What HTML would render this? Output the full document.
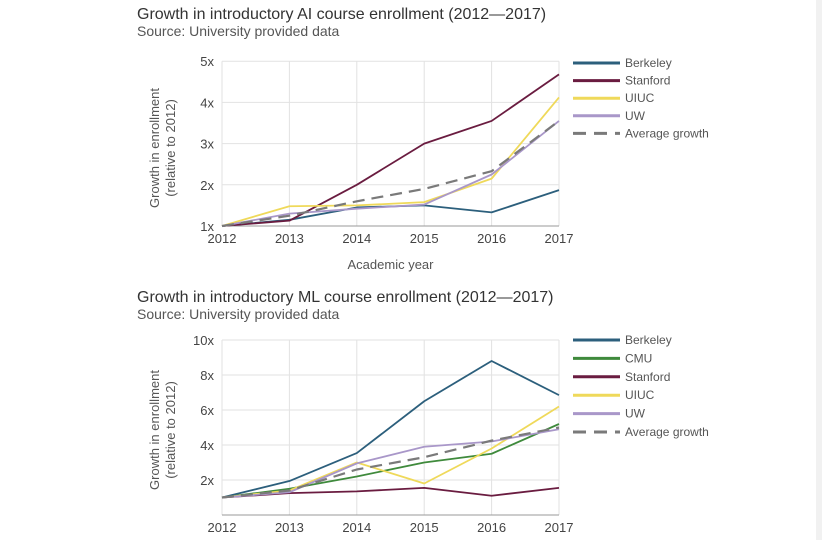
<!DOCTYPE html>
<html><head><meta charset="utf-8">
<style>
html,body{margin:0;padding:0;background:#fff;}
body{width:822px;height:540px;overflow:hidden;position:relative;font-family:"Liberation Sans",sans-serif;}
svg text{font-family:"Liberation Sans",sans-serif;}
</style></head>
<body>
<svg id="s" width="822" height="540" viewBox="0 0 822 540">
<rect x="816" y="0" width="6" height="540" fill="#f1f1f1"/>
<text x="137" y="19" font-size="16" fill="#333">Growth in introductory AI course enrollment (2012—2017)</text>
<text x="137" y="36" font-size="14" fill="#555">Source: University provided data</text>
<text x="137" y="302" font-size="16" fill="#333">Growth in introductory ML course enrollment (2012—2017)</text>
<text x="137" y="319" font-size="14" fill="#555">Source: University provided data</text>
<g id="c1"></g>
<g id="c2"></g>
</svg>
<script>
const years = [2012, 2013, 2014, 2015, 2016, 2017];
const aiTicks = [1, 2, 3, 4, 5];
const aiTickLabels = ["1x", "2x", "3x", "4x", "5x"];
const aiNames = ["Berkeley", "Stanford", "UIUC", "UW", "Average growth"];
const aiBerkeley = [1, 1.15, 1.45, 1.5, 1.33, 1.87];
const aiStanford = [1, 1.13, 2.0, 3.0, 3.55, 4.68];
const aiUIUC = [1, 1.48, 1.5, 1.58, 2.15, 4.12];
const aiUW = [1, 1.3, 1.42, 1.52, 2.25, 3.55];
const aiAvg = [1, 1.25, 1.6, 1.9, 2.33, 3.55];

const mlTicks = [2, 4, 6, 8, 10];
const mlTickLabels = ["2x", "4x", "6x", "8x", "10x"];
const mlNames = ["Berkeley", "CMU", "Stanford", "UIUC", "UW", "Average growth"];
const mlBerkeley = [1, 1.94, 3.54, 6.5, 8.8, 6.85];
const mlCMU = [1, 1.5, 2.2, 3.0, 3.5, 5.2];
const mlStanford = [1, 1.25, 1.35, 1.55, 1.1, 1.55];
const mlUIUC = [1, 1.4, 3.0, 1.8, 3.8, 6.2];
const mlUW = [1, 1.3, 2.95, 3.9, 4.2, 4.9];
const mlAvg = [1, 1.4, 2.6, 3.3, 4.25, 5.0];

const NS = "http://www.w3.org/2000/svg";
const C = {Berkeley:"#2c5f7c", Stanford:"#6a1c40", UIUC:"#efd95a", UW:"#a997c9", CMU:"#3f8a3c", avg:"#7a7a7a"};
function mk(tag, attrs, parent){const e=document.createElementNS(NS,tag);for(const k in attrs)e.setAttribute(k,attrs[k]);parent.appendChild(e);return e;}

function drawChart(g, cfg){
  const x = yr => cfg.x0 + (yr - years[0]) * (cfg.x1 - cfg.x0) / (years[years.length-1] - years[0]);
  const y = v => cfg.yBase - (v - cfg.vBase) * cfg.pxPerUnit;
  // vertical grid
  years.forEach(yr=>{
    const l=mk("line",{x1:x(yr),x2:x(yr),y1:y(cfg.vTop),y2:cfg.axisY,stroke:"#e2e2e2","stroke-width":1},g);
    
    
    const t=mk("text",{x:x(yr),y:cfg.axisY+17,"font-size":13,fill:"#444","text-anchor":"middle"},g);
    t.textContent=yr;
    
    
  });
  cfg.ticks.forEach((v,i)=>{
    const l=mk("line",{x1:cfg.x0,x2:cfg.x1,y1:y(v),y2:y(v),stroke:"#e2e2e2","stroke-width":1},g);
    
    
    const t=mk("text",{x:cfg.x0-8,y:y(v)+5,"font-size":13,fill:"#444","text-anchor":"end"},g);
    t.textContent=cfg.tickLabels[i];
    
    
  });
  const ax=mk("line",{x1:cfg.x0,x2:cfg.x1,y1:cfg.axisY,y2:cfg.axisY,stroke:"#999","stroke-width":1},g);
  
  
  const yt=mk("text",{transform:`translate(${cfg.ylabX},${cfg.ylabY}) rotate(-90)`,"font-size":13,fill:"#555","text-anchor":"middle"},g);
  
  
  const t1=mk("tspan",{x:0,dy:0},yt); t1.textContent="Growth in enrollment";
  const t2=mk("tspan",{x:0,dy:16},yt); t2.textContent="(relative to 2012)";
  if(cfg.xTitle){
    const xt=mk("text",{x:(cfg.x0+cfg.x1)/2,y:cfg.axisY+43,"font-size":13,fill:"#555","text-anchor":"middle"},g);
    xt.textContent=cfg.xTitle;
    
    
  }
  cfg.series.forEach((s,i)=>{
    const pts=s.vals.map((v,j)=>x(years[j])+","+y(v)).join(" ");
    const p=mk("polyline",{points:pts,fill:"none",stroke:s.color,"stroke-width":s.dash?2.2:1.8,"stroke-dasharray":s.dash?"12,7":"none","stroke-linejoin":"round"},g);
    
    
    const ly=cfg.legY + i*cfg.legStep;
    const ll=mk("line",{x1:573,x2:620,y1:ly,y2:ly,stroke:s.color,"stroke-width":3,"stroke-dasharray":s.dash?"13,8":"none"},g);
    
    
    const lt=mk("text",{x:625,y:ly+4,"font-size":12,fill:"#555"},g);
    lt.textContent=s.name;
    
    
  });
}

drawChart(document.getElementById("c1"),{
  x0:222,x1:559,yBase:226,vBase:1,pxPerUnit:41.2,vTop:5,axisY:226,
  ticks:aiTicks,tickLabels:aiTickLabels,ylabX:159,ylabY:148,xTitle:"Academic year",
  legY:63,legStep:17.6,
  series:[
    {name:aiNames[0],vals:aiBerkeley,color:C.Berkeley},
    {name:aiNames[1],vals:aiStanford,color:C.Stanford},
    {name:aiNames[2],vals:aiUIUC,color:C.UIUC},
    {name:aiNames[3],vals:aiUW,color:C.UW},
    {name:aiNames[4],vals:aiAvg,color:C.avg,dash:true}
  ]
});
drawChart(document.getElementById("c2"),{
  x0:222,x1:559,yBase:515,vBase:0,pxPerUnit:17.5,vTop:10,axisY:515,
  ticks:mlTicks,tickLabels:mlTickLabels,ylabX:159,ylabY:430,xTitle:null,
  legY:340,legStep:18.4,
  series:[
    {name:mlNames[0],vals:mlBerkeley,color:C.Berkeley},
    {name:mlNames[1],vals:mlCMU,color:C.CMU},
    {name:mlNames[2],vals:mlStanford,color:C.Stanford},
    {name:mlNames[3],vals:mlUIUC,color:C.UIUC},
    {name:mlNames[4],vals:mlUW,color:C.UW},
    {name:mlNames[5],vals:mlAvg,color:C.avg,dash:true}
  ]
});
</script>
</body></html>
